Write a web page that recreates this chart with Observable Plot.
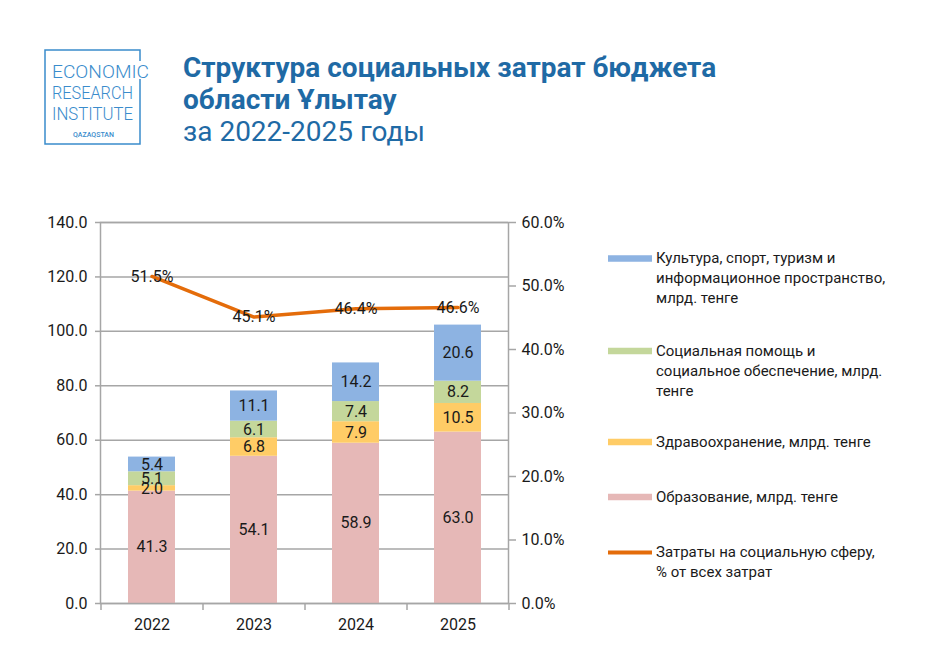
<!DOCTYPE html>
<html>
<head>
<meta charset="utf-8">
<script src="https://cdn.jsdelivr.net/npm/d3@7"></script>
<script src="https://cdn.jsdelivr.net/npm/@observablehq/plot@0.6"></script>
<style>
  html, body { margin: 0; padding: 0; background: #fff; }
  #wrap { position: relative; width: 925px; height: 672px; overflow: hidden; font-family: Roboto, "Noto Sans", sans-serif; }
  #wrap > svg { position: absolute; left: 0; top: 0; }
</style>
</head>
<body>
<div id="wrap"></div>
<script>
// ---- data ----
const years = ["2022", "2023", "2024", "2025"];
const education = [41.3, 54.1, 58.9, 63.0];
const health = [2.0, 6.8, 7.9, 10.5];
const social = [5.1, 6.1, 7.4, 8.2];
const culture = [5.4, 11.1, 14.2, 20.6];
const sharePct = [51.5, 45.1, 46.4, 46.6];

const seriesNames = ["Образование", "Здравоохранение", "Социальная помощь", "Культура"];
const seriesColors = ["#e6b8b7", "#ffcc66", "#c4d79b", "#8db3e2"];
const lineColor = "#e46c0a";

const leftTicks = [0, 20, 40, 60, 80, 100, 120, 140];
const rightTicks = [0, 10, 20, 30, 40, 50, 60];
const leftMax = 140, rightMax = 60;

const legendItems = [
  {color: "#8db3e2", kind: "bar", lines: ["Культура, спорт, туризм и", "информационное пространство,", "млрд. тенге"]},
  {color: "#c4d79b", kind: "bar", lines: ["Социальная помощь и", "социальное обеспечение, млрд.", "тенге"]},
  {color: "#ffcc66", kind: "bar", lines: ["Здравоохранение, млрд. тенге"]},
  {color: "#e6b8b7", kind: "bar", lines: ["Образование, млрд. тенге"]},
  {color: lineColor, kind: "line", lines: ["Затраты на социальную сферу,", "% от всех затрат"]}
];
const legendBaselines = [263, 355.5, 446.5, 501.5, 557];

const titleLines = ["Структура социальных затрат бюджета", "области Ұлытау", "за 2022-2025 годы"];
const logoLines = ["ECONOMIC", "RESEARCH", "INSTITUTE"];
const logoSub = "QAZAQSTAN";

// ---- tidy table ----
const seriesValues = [education, health, social, culture];
const long = [];
seriesNames.forEach((s, i) => years.forEach((y, j) => long.push({year: y, series: s, value: seriesValues[i][j]})));
const lineData = years.map((y, j) => ({year: y, pct: sharePct[j], v: sharePct[j] * leftMax / rightMax}));

const gray = "#a6a6a6";
const ink = "#1a1a1a";

const chart = Plot.plot({
  width: 925,
  height: 672,
  marginLeft: 100,
  marginRight: 417,
  marginTop: 222,
  marginBottom: 69,
  style: {fontFamily: "Roboto, sans-serif", fontSize: "16px", color: ink, background: "transparent", overflow: "visible"},
  x: {domain: years, paddingInner: 0.54, paddingOuter: 0.27, axis: null, label: null},
  y: {domain: [0, leftMax], axis: null, label: null},
  color: {domain: seriesNames, range: seriesColors},
  marks: [
    Plot.gridY({ticks: leftTicks, stroke: gray, strokeOpacity: 1, strokeWidth: 1.5}),
    Plot.barY(long, {x: "year", y: "value", fill: "series", z: "series", order: seriesNames}),
    Plot.text(long, Plot.stackY({x: "year", y: "value", z: "series", order: seriesNames, text: d => d.value.toFixed(1), fill: ink, fontSize: 16})),
    Plot.frame({stroke: gray, strokeWidth: 1.5}),
    Plot.axisY({ticks: leftTicks, tickSize: 5, tickPadding: 8, tickFormat: d => d.toFixed(1), stroke: gray, strokeWidth: 1.5, fill: ink, fontSize: 16, label: null}),
    Plot.axisY({anchor: "right", ticks: rightTicks.map(p => p * leftMax / rightMax), tickSize: 7, tickPadding: 6,
      tickFormat: v => (Math.round(v * rightMax / leftMax * 10) / 10).toFixed(1) + "%", stroke: gray, strokeWidth: 1.5, fill: ink, fontSize: 16, label: null}),
    Plot.axisX({ticks: years, tickSize: 7, dx: -51, tickFormat: () => "", stroke: gray, strokeWidth: 1.5, label: null}),
    Plot.axisX({ticks: years.slice(-1), tickSize: 7, dx: 51, tickFormat: () => "", stroke: gray, strokeWidth: 1.5, label: null}),
    Plot.axisX({ticks: years, tickSize: 0, tickPadding: 15, fill: ink, fontSize: 16, label: null}),
    Plot.line(lineData, {x: "year", y: "v", stroke: lineColor, strokeWidth: 3.5}),
    Plot.text(lineData, {x: "year", y: "v", text: d => d.pct.toFixed(1) + "%", fill: ink, fontSize: 16})
  ]
});
document.getElementById("wrap").appendChild(chart);

// ---- overlay: logo, title, legend ----
const ov = d3.select("#wrap").append("svg").attr("width", 925).attr("height", 672)
  .style("font-family", "Roboto, sans-serif");

const logoBlue = "#3a8ccc";
ov.append("path")
  .attr("d", "M140,61 V50 H45 V144 H140 V79")
  .attr("fill", "none").attr("stroke", logoBlue).attr("stroke-width", 1.5);
const logoBase = [77.5, 98.5, 119.5];
const logoLen = [97, 81, 81];
logoLines.forEach((t, i) => {
  ov.append("text").attr("x", 52).attr("y", logoBase[i]).attr("font-size", 19).attr("font-weight", 300)
    .attr("fill", logoBlue).attr("textLength", logoLen[i]).attr("lengthAdjust", "spacingAndGlyphs").text(t);
});
ov.append("text").attr("x", 73).attr("y", 137).attr("font-size", 6.3).attr("font-weight", 500)
  .attr("fill", logoBlue).attr("textLength", 41).attr("lengthAdjust", "spacingAndGlyphs").text(logoSub);

const titleBlue = "#1f6aa5";
const titleBase = [77, 109, 141];
titleLines.forEach((t, i) => {
  ov.append("text").attr("x", 183).attr("y", titleBase[i]).attr("font-size", 28)
    .attr("font-weight", i < 2 ? 700 : 400).attr("fill", titleBlue).text(t);
});

legendItems.forEach((item, i) => {
  const b = legendBaselines[i];
  const h = item.kind === "line" ? 4 : 6.5;
  ov.append("rect").attr("x", 608).attr("y", b - 4.5 - h / 2).attr("width", 44).attr("height", h).attr("fill", item.color);
  item.lines.forEach((ln, k) => {
    ov.append("text").attr("x", 656).attr("y", b + k * 20).attr("font-size", 15).attr("fill", ink).text(ln);
  });
});
</script>
</body>
</html>
